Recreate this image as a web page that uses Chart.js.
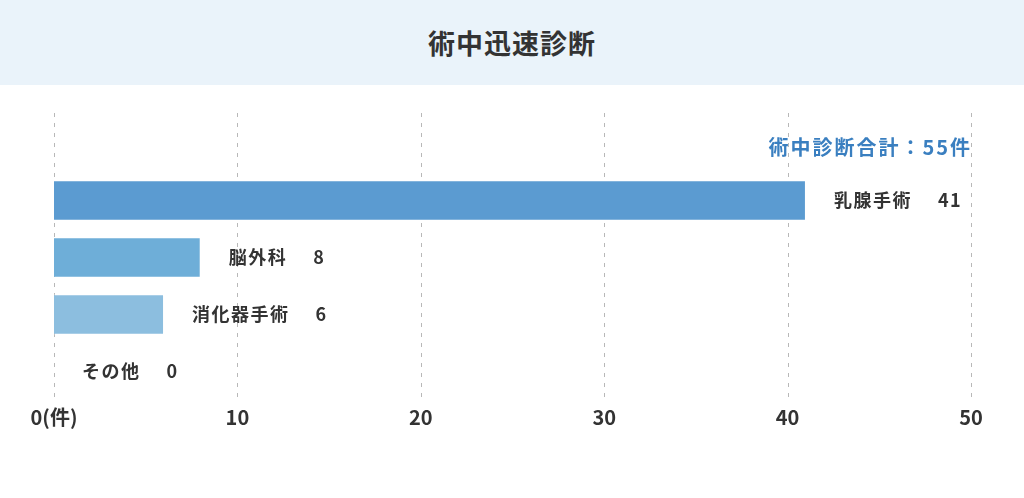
<!DOCTYPE html>
<html lang="ja">
<head>
<meta charset="UTF-8">
<title>術中迅速診断</title>
<script src="https://cdn.jsdelivr.net/npm/chart.js@4.4.1/dist/chart.umd.min.js"></script>
<style>
  html, body { margin: 0; padding: 0; background: #fff; }
  body { width: 1024px; height: 498px; overflow: hidden; font-family: "Noto Sans CJK JP", sans-serif; }
  .head {
    height: 85px;
    background: #eaf3fa;
    display: flex;
    align-items: center;
    justify-content: center;
    color: #333;
    font-size: 27px;
    font-weight: 700;
    letter-spacing: 1px;
  }
  .chart-box { position: relative; width: 1024px; height: 413px; }
</style>
</head>
<body>
<div class="head">術中迅速診断</div>
<div class="chart-box"><canvas id="chart"></canvas></div>

<script>
  // data
  const categories = ['乳腺手術', '脳外科', '消化器手術', 'その他'];
  const counts = [41, 8, 6, 0];
  const barColors = ['#5b9bd1', '#6eaed8', '#8cbedf', '#a9cfe8'];
  const xTicks = [0, 10, 20, 30, 40, 50];
  const totalLabel = '術中診断合計：';
  const unit = '件';

  const total = counts.reduce((a, b) => a + b, 0);
  const FONT = '"Noto Sans CJK JP", sans-serif';

  // dashed grid + labels beside bars + total note
  const barLabels = {
    id: 'barLabels',
    beforeDatasetsDraw(chart) {
      const ctx = chart.ctx, x = chart.scales.x, area = chart.chartArea;
      ctx.save();
      ctx.strokeStyle = '#b8b8b8';
      ctx.lineWidth = 1;
      ctx.setLineDash([4, 6]);
      xTicks.forEach(v => {
        const px = Math.round(x.getPixelForValue(v)) + 0.5;
        ctx.beginPath();
        ctx.moveTo(px, area.top - 59);
        ctx.lineTo(px, area.bottom + 1);
        ctx.stroke();
      });
      ctx.restore();
    },
    afterDatasetsDraw(chart) {
      const ctx = chart.ctx, x = chart.scales.x, area = chart.chartArea;
      const meta = chart.getDatasetMeta(0);
      ctx.save();
      ctx.textBaseline = 'middle';
      ctx.textAlign = 'left';
      ctx.fillStyle = '#333';
      ctx.font = '700 18px ' + FONT;
      ctx.letterSpacing = '1.5px';
      meta.data.forEach((bar, i) => {
        const lx = bar.x + 28;
        ctx.fillText(categories[i], lx, bar.y);
        const w = ctx.measureText(categories[i]).width;
        ctx.fillText(String(counts[i]), lx + w + 26, bar.y);
      });

      ctx.textAlign = 'right';
      ctx.fillStyle = '#3a7fc0';
      ctx.font = '700 20px ' + FONT;
      ctx.letterSpacing = '2px';
      ctx.fillText(totalLabel + total + unit, x.getPixelForValue(50) + 1, area.top - 25);
      ctx.restore();
    }
  };

  new Chart(document.getElementById('chart'), {
    type: 'bar',
    data: {
      labels: categories,
      datasets: [{
        data: counts,
        backgroundColor: barColors,
        borderColor: 'rgba(255,255,255,0.35)',
        borderWidth: 1,
        categoryPercentage: 1,
        barPercentage: 0.71
      }]
    },
    options: {
      indexAxis: 'y',
      responsive: true,
      maintainAspectRatio: false,
      animation: false,
      layout: { padding: { top: 87, left: 54, right: 53, bottom: 64 } },
      plugins: {
        legend: { display: false },
        tooltip: { enabled: false }
      },
      scales: {
        x: {
          min: 0,
          max: 50,
          border: { display: false },
          grid: { display: false, drawTicks: false },
          afterBuildTicks(scale) { scale.ticks = xTicks.map(v => ({ value: v })); },
          ticks: {
            padding: 5,
            color: '#333',
            font: { family: FONT, size: 20, weight: '700' },
            callback: v => v === 0 ? '0(' + unit + ')' : v
          }
        },
        y: { display: false }
      }
    },
    plugins: [barLabels]
  });
</script>
</body>
</html>
